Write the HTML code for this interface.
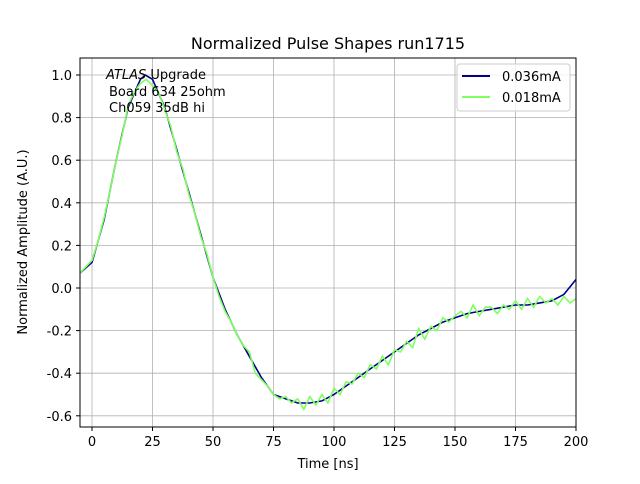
<!DOCTYPE html>
<html><head><meta charset="utf-8"><style>
body{margin:0;background:#fff;font-family:"DejaVu Sans","Liberation Sans",sans-serif}
svg text{font-family:"DejaVu Sans","Liberation Sans",sans-serif}
</style></head><body>
<svg id="c" width="640" height="480">
<rect width="640" height="480" fill="#fff"/>
<text x="328" y="49" font-size="16" text-anchor="middle">Normalized Pulse Shapes run1715</text>
<g id="grid"></g><g id="ticks"></g><g id="series"></g>
<rect x="80" y="58" width="496" height="369" fill="none" stroke="#000" stroke-width="1"/>
<text x="328" y="468" font-size="13" text-anchor="middle">Time [ns]</text>
<text transform="translate(27,242) rotate(-90)" font-size="13" text-anchor="middle">Normalized Amplitude (A.U.)</text>
<g font-size="13">
<text x="106" y="79"><tspan font-style="italic">ATLAS</tspan> Upgrade</text>
<text x="109" y="96">Board 634 25ohm</text>
<text x="109" y="112">Ch059 35dB hi</text>
</g>
<g>
<rect x="457" y="64" width="113" height="47" rx="3" fill="#fff" fill-opacity="0.8" stroke="#ccc"/>
<line x1="462" y1="76" x2="490" y2="76" stroke="#00008b" stroke-width="2"/>
<text x="502" y="81" font-size="13">0.036mA</text>
<line x1="462" y1="97" x2="490" y2="97" stroke="#7fff5f" stroke-width="2"/>
<text x="502" y="102" font-size="13">0.018mA</text>
</g>
</svg>
<script>
const xTicks=[0,25,50,75,100,125,150,175,200];
const yTicks=[-0.6,-0.4,-0.2,0.0,0.2,0.4,0.6,0.8,1.0];
const timesA=[-5,0,5,10,15,20,22,25,30,35,40,45,50,55,60,65,70,75,80,85,90,95,100,105,110,115,120,125,130,135,140,145,150,155,160,165,170,175,180,185,190,195,200];
const ampA=[0.07,0.12,0.32,0.6,0.85,0.98,1.0,0.98,0.85,0.65,0.45,0.25,0.05,-0.1,-0.22,-0.32,-0.42,-0.5,-0.52,-0.54,-0.54,-0.53,-0.5,-0.46,-0.42,-0.38,-0.34,-0.3,-0.26,-0.22,-0.19,-0.16,-0.14,-0.12,-0.11,-0.1,-0.09,-0.08,-0.08,-0.07,-0.06,-0.03,0.04];
const timesB=[-5,-2.5,0,2.5,5,7.5,10,12.5,15,17.5,20,22.5,25,27.5,30,32.5,35,37.5,40,42.5,45,47.5,50,52.5,55,57.5,60,62.5,65,67.5,70,72.5,75,77.5,80,82.5,85,87.5,90,92.5,95,97.5,100,102.5,105,107.5,110,112.5,115,117.5,120,122.5,125,127.5,130,132.5,135,137.5,140,142.5,145,147.5,150,152.5,155,157.5,160,162.5,165,167.5,170,172.5,175,177.5,180,182.5,185,187.5,190,192.5,195,197.5,200];
const ampB=[0.07,0.1,0.13,0.22,0.33,0.46,0.6,0.72,0.86,0.92,0.96,0.98,0.95,0.92,0.84,0.76,0.64,0.56,0.44,0.35,0.24,0.16,0.05,-0.04,-0.11,-0.16,-0.22,-0.27,-0.3,-0.4,-0.43,-0.46,-0.5,-0.52,-0.51,-0.54,-0.52,-0.57,-0.51,-0.55,-0.5,-0.54,-0.47,-0.5,-0.44,-0.45,-0.4,-0.42,-0.36,-0.38,-0.32,-0.36,-0.29,-0.3,-0.25,-0.28,-0.19,-0.24,-0.18,-0.2,-0.14,-0.16,-0.13,-0.11,-0.14,-0.08,-0.13,-0.09,-0.09,-0.12,-0.08,-0.1,-0.06,-0.1,-0.05,-0.09,-0.04,-0.07,-0.05,-0.08,-0.04,-0.07,-0.05];
const X=t=>92+(t-0)*(576-92)/200;
const Y=v=>288-v*213;
const NS='http://www.w3.org/2000/svg';
function mk(tag,at,parent){const e=document.createElementNS(NS,tag);for(const k in at)e.setAttribute(k,at[k]);parent.appendChild(e);return e;}
const grid=document.getElementById('grid'),ticks=document.getElementById('ticks'),series=document.getElementById('series');
xTicks.forEach(t=>{const x=X(t);
 const g=mk('line',{x1:x,x2:x,y1:58,y2:427,stroke:'#b0b0b0','stroke-width':0.8},grid);
 
 
 mk('line',{x1:x,x2:x,y1:427,y2:431,stroke:'#000'},ticks);
 const l=mk('text',{x:x,y:446,'font-size':13,'text-anchor':'middle'},ticks);l.textContent=t;
 
 });
yTicks.forEach(v=>{const y=Y(v);
 const g=mk('line',{x1:80,x2:576,y1:y,y2:y,stroke:'#b0b0b0','stroke-width':0.8},grid);
 
 
 mk('line',{x1:76,x2:80,y1:y,y2:y,stroke:'#000'},ticks);
 const l=mk('text',{x:72,y:y+5,'font-size':13,'text-anchor':'end'},ticks);l.textContent=v.toFixed(1);
 
 });
function path(ts,vs,col){return ts.map((t,i)=>(i?'L':'M')+X(t).toFixed(1)+','+Y(vs[i]).toFixed(1)).join('');}
const pa=mk('path',{d:path(timesA,ampA),fill:'none',stroke:'#00008b','stroke-width':1.6},series);


const pb=mk('path',{d:path(timesB,ampB),fill:'none',stroke:'#7fff5f','stroke-width':1.6},series);


</script>
</body></html>
